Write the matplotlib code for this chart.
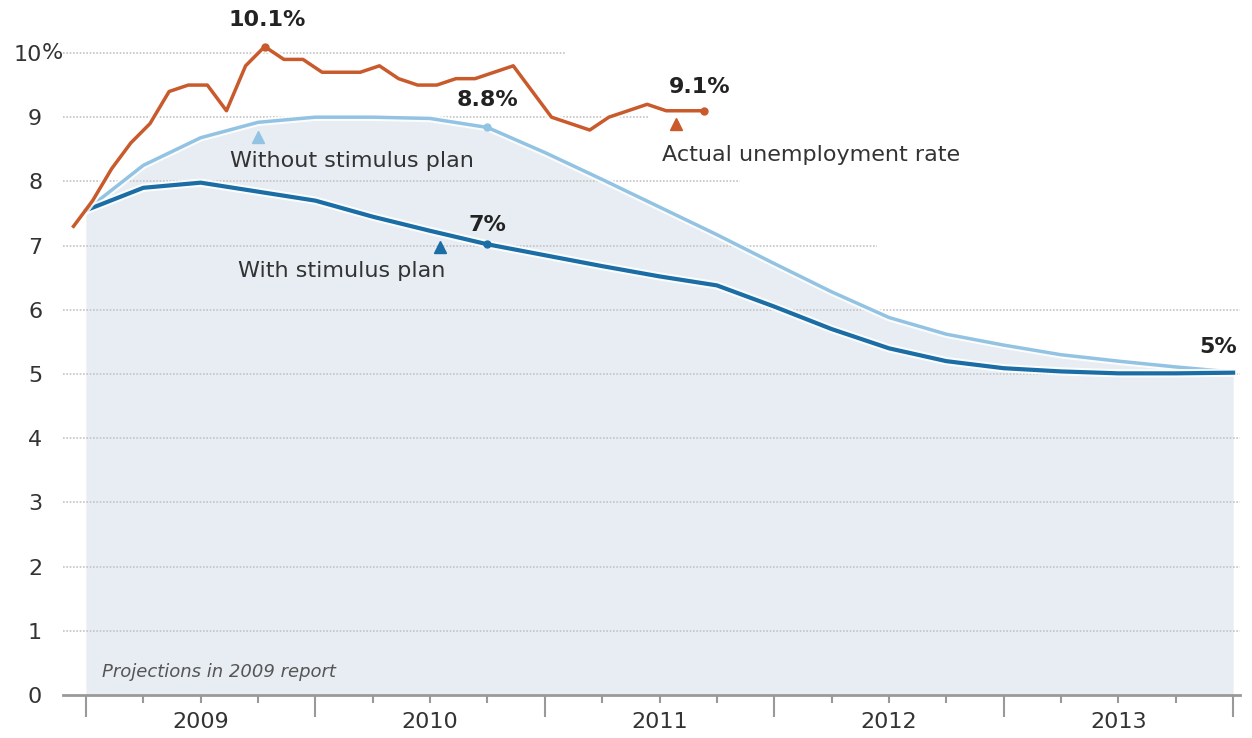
import numpy as np
import pandas as pd
import matplotlib.pyplot as plt
import matplotlib.patheffects as pe

# actual monthly unemployment rate (Dec 2008 - Sep 2011)
actual_months = pd.period_range('2008-12', '2011-09', freq='M')
actual_rate = [7.3,
               7.7, 8.2, 8.6, 8.9, 9.4, 9.5, 9.5, 9.1, 9.8, 10.1, 9.9, 9.9,
               9.7, 9.7, 9.7, 9.8, 9.6, 9.5, 9.5, 9.6, 9.6, 9.7, 9.8, 9.4,
               9.0, 8.9, 8.8, 9.0, 9.1, 9.2, 9.1, 9.1, 9.1]

# projections in the 2009 report, quarterly
quarters = pd.period_range('2009Q1', '2014Q1', freq='Q')
without_plan = [7.55, 8.25, 8.68, 8.92, 9.0, 9.0, 8.98, 8.84, 8.45, 8.03, 7.6,
                7.17, 6.72, 6.28, 5.88, 5.62, 5.45, 5.3, 5.2, 5.11, 5.03]
with_plan = [7.55, 7.9, 7.98, 7.84, 7.7, 7.45, 7.23, 7.02, 6.85, 6.68, 6.52,
             6.38, 6.05, 5.7, 5.4, 5.2, 5.09, 5.04, 5.01, 5.01, 5.02]

years = [2009, 2010, 2011, 2012, 2013]
y_ticks = list(range(11))

x_act = np.array([p.year + (p.month - 0.65) / 12 for p in actual_months])
x_q = np.array([q.year + (q.quarter - 1) / 4 for q in quarters])

red = '#c85a2c'
light = '#93c3e3'
dark = '#1b6ea5'
grid_c = '#c4c4c4'

fig = plt.figure(figsize=(12.52, 7.38), dpi=100)
ax = fig.add_axes([63 / 1252, 43 / 738, 1177 / 1252, 660 / 738])
ax.set_xlim(2008.9, 2014.03)
ax.set_ylim(0, 10.28)

# shaded projection area
ax.fill_between(x_q, 0, without_plan, color='#e7edf2', lw=0, zorder=1)

# dotted gridlines of different lengths
grid_end = {10: 2011.09, 9: 2011.45, 8: 2011.85, 7: 2012.45}
for v in range(1, 11):
    ax.hlines(v, 2008.9, grid_end.get(v, 2014.03), colors=grid_c, lw=1.2,
              linestyles=(0, (1, 1)), zorder=2)

halo = lambda w: [pe.Stroke(linewidth=w + 3, foreground='white', alpha=0.85), pe.Normal()]

ax.plot(x_q, without_plan, color=light, lw=2.5, zorder=3, path_effects=halo(2.5),
        solid_joinstyle='round')
ax.plot(x_q, with_plan, color=dark, lw=3, zorder=4, path_effects=halo(3),
        solid_joinstyle='round')
ax.plot(x_act, actual_rate, color=red, lw=2.5, zorder=5, path_effects=halo(2.5),
        solid_joinstyle='round')

# highlighted points
i_peak = int(np.argmax(actual_rate))
ax.plot(x_act[i_peak], actual_rate[i_peak], 'o', color=red, ms=5, zorder=6)
ax.plot(x_act[-1], actual_rate[-1], 'o', color=red, ms=5, zorder=6)
ax.plot(x_q[7], without_plan[7], 'o', color=light, ms=5, zorder=6)
ax.plot(x_q[7], with_plan[7], 'o', color=dark, ms=5, zorder=6)

bold = dict(fontsize=16, fontweight='bold', color='#222222', ha='center', va='center', zorder=7)
ax.text(2009.789, 10.51, f'{actual_rate[i_peak]:.1f}%', **bold)
ax.text(2011.677, 9.47, f'{actual_rate[-1]:.1f}%', **bold)
ax.text(2010.752, 9.27, '8.8%', **bold)
ax.text(2010.752, 7.32, '7%', **bold)
ax.text(2013.935, 5.42, '5%', **bold)

# labels with triangle pointers
lab = dict(fontsize=16, color='#333333', ha='left', va='center', zorder=7)
ax.plot(2009.75, 8.69, '^', color=light, ms=9, zorder=6)
ax.text(2009.628, 8.32, 'Without stimulus plan', **lab)
ax.plot(2010.543, 6.98, '^', color=dark, ms=9, zorder=6)
ax.text(2009.663, 6.60, 'With stimulus plan', **lab)
ax.plot(2011.572, 8.89, '^', color=red, ms=9, zorder=6)
ax.text(2011.511, 8.41, 'Actual unemployment rate', **lab)

ax.text(2009.07, 0.36, 'Projections in 2009 report', fontsize=13, style='italic',
        color='#555555', ha='left', va='center', zorder=7)

# axes styling
for s in ['top', 'right', 'left']:
    ax.spines[s].set_visible(False)
ax.spines['bottom'].set_color('#999999')
ax.spines['bottom'].set_linewidth(2)
ax.spines['bottom'].set_zorder(8)

ax.set_yticks(y_ticks)
ax.set_yticklabels([str(v) for v in y_ticks])
ax.tick_params(axis='y', length=0, pad=15, labelsize=16, labelcolor='#333333')
ax.annotate('%', xy=(0, 10), xycoords=('axes fraction', 'data'), xytext=(-21, 0),
            textcoords='offset pixels', ha='left', va='center', fontsize=16,
            color='#333333')

ax.set_xticks(np.arange(2009, 2015))
ax.set_xticklabels([])
qt = np.arange(2009.25, 2014, 0.25)
qt = qt[(qt % 1) != 0]
ax.set_xticks(qt, minor=True)
ax.set_xticklabels([str(int(q)) if abs(q % 1 - 0.5) < 1e-9 else '' for q in qt], minor=True)
ax.tick_params(axis='x', which='major', length=16, width=1.5, color='#999999')
ax.tick_params(axis='x', which='minor', length=6, width=1.5, color='#999999',
               pad=6, labelsize=16, labelcolor='#333333')

fig.savefig('out.png', dpi=100)
